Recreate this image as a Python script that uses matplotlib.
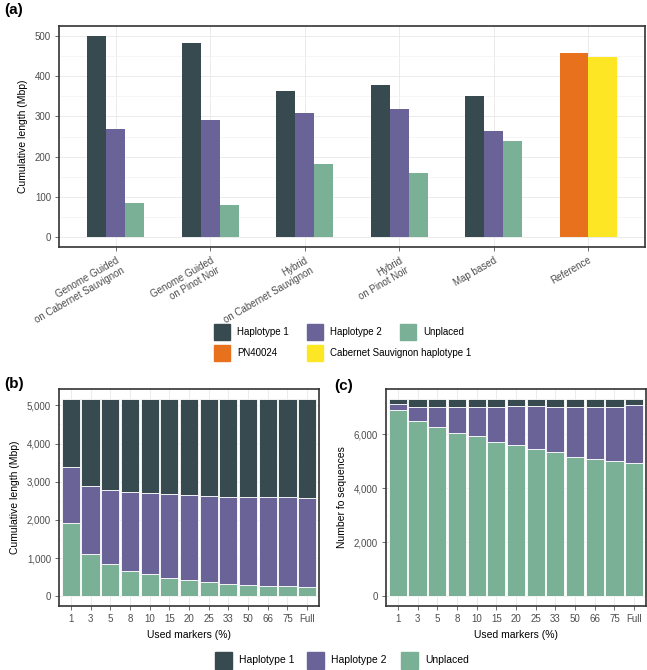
import matplotlib.pyplot as plt
import numpy as np
from matplotlib.patches import Rectangle
from matplotlib.ticker import AutoMinorLocator, FuncFormatter

plt.rcParams['font.family'] = ['Liberation Sans', 'DejaVu Sans']

# colours
c_h1 = '#374A50'
c_h2 = '#6A6398'
c_un = '#7AB196'
c_pn = '#E8711E'
c_cs = '#FDE725'

# panel (a)
methods = ['Genome Guided\non Cabernet Sauvignon', 'Genome Guided\non Pinot Noir',
           'Hybrid\non Cabernet Sauvignon', 'Hybrid\non Pinot Noir', 'Map based']
a_hap1 = [500, 482, 364, 377, 350]
a_hap2 = [268, 291, 309, 319, 263]
a_unpl = [85, 80, 181, 158, 240]
ref_pn40024 = 458
ref_cs_hap1 = 449

# panels (b) and (c)
markers = ['1', '3', '5', '8', '10', '15', '20', '25', '33', '50', '66', '75', 'Full']
b_unpl = [1910, 1100, 850, 670, 570, 480, 430, 370, 320, 290, 270, 260, 250]
b_hap2 = [1470, 1780, 1930, 2060, 2130, 2190, 2220, 2250, 2290, 2310, 2320, 2330, 2330]
b_hap1 = [1790, 2290, 2390, 2440, 2470, 2500, 2520, 2550, 2560, 2570, 2580, 2580, 2590]
c_unpl = [6890, 6490, 6250, 6030, 5920, 5710, 5590, 5470, 5340, 5170, 5070, 5020, 4940]
c_hap2 = [240, 530, 760, 970, 1080, 1300, 1450, 1560, 1680, 1840, 1930, 1990, 2140]
c_hap1 = [180, 290, 300, 310, 310, 300, 270, 280, 290, 300, 310, 300, 230]

W, H = 647, 670
fig = plt.figure(figsize=(W / 100, H / 100), dpi=100)


def px_axes(l, t, r, b):
    return fig.add_axes([l / W, 1 - b / H, (r - l) / W, (b - t) / H])


def style(ax):
    ax.set_axisbelow(True)
    for s in ax.spines.values():
        s.set_color('#333333')
        s.set_linewidth(1.2)
    ax.grid(which='major', color='#EBEBEB', lw=0.7)
    ax.yaxis.set_minor_locator(AutoMinorLocator(2))
    ax.grid(which='minor', axis='y', color='#F2F2F2', lw=0.45)
    ax.tick_params(which='major', length=2.8, width=0.5, color='#333333',
                   labelsize=7, labelcolor='#4D4D4D', pad=3)
    ax.tick_params(which='minor', length=0)


# (a)
ax = px_axes(59, 26, 645, 247)
x = np.arange(len(methods))
ax.bar(x - 0.2, a_hap1, 0.2, color=c_h1)
ax.bar(x, a_hap2, 0.2, color=c_h2)
ax.bar(x + 0.2, a_unpl, 0.2, color=c_un)
ax.bar(len(methods) - 0.15, ref_pn40024, 0.3, color=c_pn)
ax.bar(len(methods) + 0.15, ref_cs_hap1, 0.3, color=c_cs)
ax.set_xlim(-0.6, len(methods) + 0.6)
ax.set_ylim(-25, 525)
ax.set_yticks([0, 100, 200, 300, 400, 500])
ax.set_xticks(np.arange(len(methods) + 1))
ax.set_xticklabels(methods + ['Reference'], rotation=30, ha='right', va='top',
                   rotation_mode='anchor', multialignment='right')
style(ax)
ax.set_ylabel('Cumulative length (Mbp)', fontsize=7.5, labelpad=5)

fmt = FuncFormatter(lambda v, p: f'{int(v):,}')

# (b)
axb = px_axes(59, 389, 319, 606)
xm = np.arange(len(markers))
kw = dict(width=0.92, edgecolor='white', linewidth=0.6)
axb.bar(xm, b_unpl, color=c_un, **kw)
axb.bar(xm, b_hap2, bottom=b_unpl, color=c_h2, **kw)
axb.bar(xm, b_hap1, bottom=np.add(b_unpl, b_hap2), color=c_h1, **kw)
axb.set_xlim(-0.6, len(markers) - 0.4)
axb.set_ylim(-258, 5430)
axb.set_yticks([0, 1000, 2000, 3000, 4000, 5000])
axb.yaxis.set_major_formatter(fmt)
axb.set_xticks(xm)
axb.set_xticklabels(markers)
style(axb)
axb.set_ylabel('Cumulative length (Mbp)', fontsize=7.5, labelpad=5)
axb.set_xlabel('Used markers (%)', fontsize=7.5, labelpad=4)

# (c)
axc = px_axes(386, 389, 646, 606)
axc.bar(xm, c_unpl, color=c_un, **kw)
axc.bar(xm, c_hap2, bottom=c_unpl, color=c_h2, **kw)
axc.bar(xm, c_hap1, bottom=np.add(c_unpl, c_hap2), color=c_h1, **kw)
axc.set_xlim(-0.6, len(markers) - 0.4)
axc.set_ylim(-365, 7675)
axc.set_yticks([0, 2000, 4000, 6000])
axc.yaxis.set_major_formatter(fmt)
axc.set_xticks(xm)
axc.set_xticklabels(markers)
style(axc)
axc.set_ylabel('Number fo sequences', fontsize=7.5, labelpad=5)
axc.set_xlabel('Used markers (%)', fontsize=7.5, labelpad=4)

# panel letters
fig.text(4 / W, 1 - 10 / H, '(a)', fontsize=11, fontweight='bold', va='center')
fig.text(4 / W, 1 - 384 / H, '(b)', fontsize=11, fontweight='bold', va='center')
fig.text(334 / W, 1 - 386 / H, '(c)', fontsize=11, fontweight='bold', va='center')


# legends (ggplot style key boxes)
def key(xp, yc, color, label, size=16, fs=7):
    fig.patches.append(Rectangle((xp / W, 1 - (yc + size / 2) / H), size / W, size / H,
                                 transform=fig.transFigure, color=color))
    fig.text((xp + size + 7) / W, 1 - yc / H, label, fontsize=fs, va='center')


key(214, 332, c_h1, 'Haplotype 1')
key(307, 332, c_h2, 'Haplotype 2')
key(400, 332, c_un, 'Unplaced')
key(214, 353, c_pn, 'PN40024')
key(307, 353, c_cs, 'Cabernet Sauvignon haplotype 1')

key(215, 660, c_h1, 'Haplotype 1', size=17, fs=7.5)
key(307, 660, c_h2, 'Haplotype 2', size=17, fs=7.5)
key(401, 660, c_un, 'Unplaced', size=17, fs=7.5)

fig.savefig('out.png', dpi=100)
